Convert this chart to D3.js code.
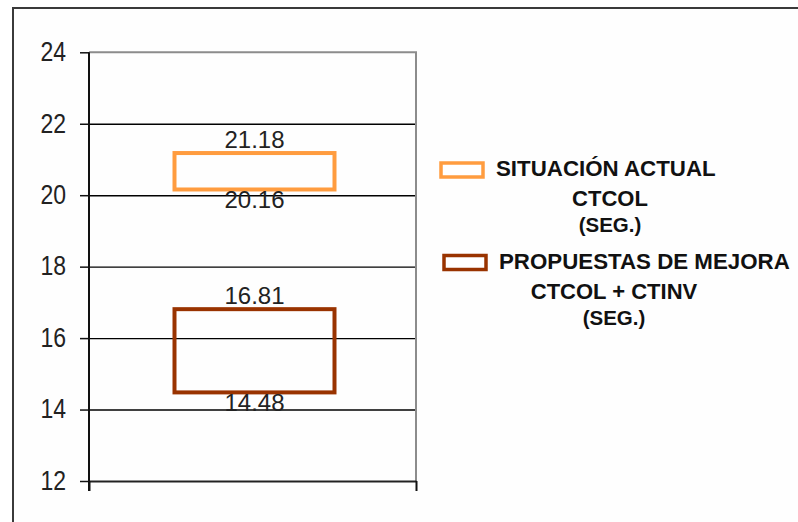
<!DOCTYPE html>
<html>
<head>
<meta charset="utf-8">
<script src="https://cdn.jsdelivr.net/npm/d3@7"></script>
<style>
  html, body { margin: 0; padding: 0; background: #fff; }
  svg { display: block; font-family: "Liberation Sans", Arial, sans-serif; }
</style>
</head>
<body>
<svg id="chart" width="798" height="522"></svg>
<script>
// values
const seriesNames = ["SITUACIÓN ACTUAL", "PROPUESTAS DE MEJORA"];
const seriesSubtitles = [["CTCOL", "(SEG.)"], ["CTCOL + CTINV", "(SEG.)"]];
const highValues = [21.18, 16.81];
const lowValues = [20.16, 14.48];
const seriesColors = ["#ff9c3f", "#993300"];
const yTicks = [12, 14, 16, 18, 20, 22, 24];
const categories = ["A"];

const svg = d3.select("#chart");

// outer chart frame (runs past the right and bottom edges)
svg.append("rect")
  .attr("x", 13).attr("y", 8)
  .attr("width", 820).attr("height", 560)
  .attr("fill", "#fefefe")
  .attr("stroke", "#3a3a3a").attr("stroke-width", 2);

const plot = { left: 89, right: 416, top: 52.3, bottom: 481 };

const y = d3.scaleLinear().domain([12, 24]).range([plot.bottom, plot.top]);
const x = d3.scaleBand().domain(categories).range([plot.left, plot.right]).paddingInner(0).paddingOuter(0.255);

const g = svg.append("g");

// grid lines
g.append("g")
  .attr("transform", `translate(${plot.left},0)`)
  .call(d3.axisLeft(y).tickValues(yTicks.filter(d => d > 12 && d < 24)).tickSize(-(plot.right - plot.left)).tickFormat(""))
  .call(a => a.select(".domain").remove())
  .call(a => a.selectAll("line").attr("stroke", "#000").attr("stroke-width", 1.4));

// plot border top / right (gray)
g.append("path")
  .attr("d", `M${plot.left},${y(24)}H${plot.right}V${y(12)}`)
  .attr("fill", "none").attr("stroke", "#8c8c8c").attr("stroke-width", 2);

// x axis line with category boundary ticks
g.append("g")
  .attr("transform", `translate(0,${y(12)})`)
  .call(d3.axisBottom(d3.scaleLinear().domain([0, 1]).range([plot.left, plot.right]))
    .tickValues([0, 1]).tickSize(10).tickSizeOuter(0).tickFormat(""))
  .call(a => a.select(".domain").attr("stroke", "#222").attr("stroke-width", 2))
  .call(a => a.selectAll("line").attr("stroke", "#111").attr("stroke-width", 2));

// y axis
g.append("g")
  .attr("transform", `translate(${plot.left},0)`)
  .call(d3.axisLeft(y).tickValues(yTicks).tickSize(9).tickSizeOuter(0).tickPadding(14))
  .call(a => a.select(".domain").attr("stroke", "#111").attr("stroke-width", 2)
    .attr("d", `M0,${y(24)}V${y(12) + 10}`))
  .call(a => a.selectAll("line").attr("stroke", "#111").attr("stroke-width", 1.5))
  .call(a => a.selectAll("text")
    .attr("fill", "#222")
    .attr("font-size", 23)
    .attr("font-family", "'Liberation Sans', Arial, sans-serif")
    .attr("dy", "0.3em")
    .attr("transform", "scale(1,1.2)"));

// floating boxes
const boxes = seriesNames.map((name, i) => ({ name, hi: highValues[i], lo: lowValues[i], color: seriesColors[i] }));
const bx = x("A") + x.bandwidth() / 2 + 2;
const bw = 160;

g.selectAll("rect.box").data(boxes).join("rect")
  .attr("class", "box")
  .attr("x", bx - bw / 2)
  .attr("y", d => y(d.hi))
  .attr("width", bw)
  .attr("height", d => y(d.lo) - y(d.hi))
  .attr("fill", "none")
  .attr("stroke", d => d.color)
  .attr("stroke-width", 4);

g.selectAll("text.hi").data(boxes).join("text")
  .attr("class", "hi")
  .attr("x", bx)
  .attr("y", d => y(d.hi) - 5)
  .attr("text-anchor", "middle")
  .attr("font-size", 24)
  .attr("fill", "#222")
  .text(d => d.hi.toFixed(2));

g.selectAll("text.lo").data(boxes).join("text")
  .attr("class", "lo")
  .attr("x", bx)
  .attr("y", d => y(d.lo) + 19)
  .attr("text-anchor", "middle")
  .attr("font-size", 24)
  .attr("fill", "#222")
  .text(d => d.lo.toFixed(2));

// legend
const legend = svg.append("g").selectAll("g").data(boxes).join("g")
  .attr("transform", (d, i) => `translate(0,${i * 92.5})`);

legend.append("rect")
  .attr("x", (d, i) => 441 + i * 3).attr("y", 163)
  .attr("width", 42).attr("height", 14)
  .attr("fill", "#fff")
  .attr("stroke", d => d.color).attr("stroke-width", 3.5);

legend.append("text")
  .attr("x", (d, i) => 496 + i * 3).attr("y", 176)
  .attr("font-size", 22.3).attr("font-weight", "bold").attr("fill", "#111")
  .text(d => d.name);

legend.each(function(d, i) {
  d3.select(this).selectAll("text.sub").data(seriesSubtitles[i]).join("text")
    .attr("class", "sub")
    .attr("x", 610 + i * 4)
    .attr("y", (s, j) => 206 + j * 26)
    .attr("text-anchor", "middle")
    .attr("font-weight", "bold")
    .attr("font-size", (s, j) => j === 0 ? 22 : 20.5)
    .attr("fill", "#111")
    .text(s => s);
});
</script>
</body>
</html>
